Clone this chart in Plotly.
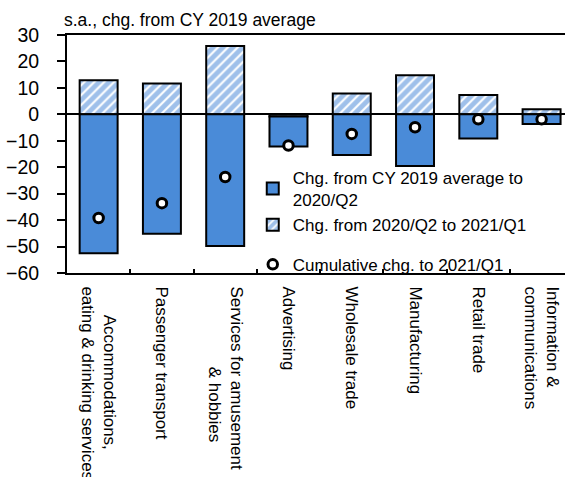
import plotly.graph_objects as go

NB = "\u00a0"
categories = [
    NB * 6 + "Accommodations,<br>eating & drinking services",
    "Passenger transport",
    "Services for amusement<br>" + NB * 17 + "& hobbies",
    "Advertising",
    "Wholesale trade",
    "Manufacturing",
    "Retail trade",
    "Information &<br>communications",
]
chg_to_2020q2 = [-52.5, -45.2, -49.8, -11.4, -15.4, -19.5, -9.1, -3.7]
chg_2020q2_to_2021q1 = [12.9, 11.7, 25.8, -0.8, 7.9, 14.8, 7.3, 1.9]
cumulative = [-39.2, -33.6, -23.7, -11.8, -7.4, -4.9, -1.9, -1.9]

name_blue = "Chg. from CY 2019 average to<br>2020/Q2"
name_hatch = "Chg. from 2020/Q2 to 2021/Q1"
name_cum = "Cumulative chg. to 2021/Q1"
subtitle = "s.a., chg. from CY 2019 average"

BLUE = "#4a8bd8"
FONT = "Liberation Sans, Arial, sans-serif"

fig = go.Figure()
fig.add_trace(go.Bar(
    x=categories, y=chg_2020q2_to_2021q1, name=name_hatch, legendrank=2,
    marker=dict(color="white", line=dict(color="black", width=2),
                pattern=dict(shape="/", fgcolor="#3f82d6", bgcolor="white", size=7, solidity=0.7)),
    width=0.6,
))
fig.add_trace(go.Bar(
    x=categories, y=chg_to_2020q2, name=name_blue, legendrank=1,
    marker=dict(color=BLUE, line=dict(color="black", width=2)),
    width=0.6,
))
fig.add_trace(go.Scatter(
    x=categories, y=cumulative, name=name_cum, mode="markers", legend="legend2",
    marker=dict(symbol="circle", size=9.5, color="white", line=dict(color="black", width=3)),
))

fig.update_layout(
    width=565, height=477,
    margin=dict(l=67, r=0, t=35, b=204, autoexpand=False),
    barmode="relative",
    plot_bgcolor="white", paper_bgcolor="white",
    font=dict(family=FONT, color="black"),
    legend=dict(x=0.373, y=0.475, xanchor="left", yanchor="top",
                bgcolor="rgba(0,0,0,0)", font=dict(size=17, family=FONT),
                itemwidth=30, tracegroupgap=0),
    legend2=dict(x=0.373, y=0.11, xanchor="left", yanchor="top",
                 bgcolor="rgba(0,0,0,0)", font=dict(size=17, family=FONT),
                 itemwidth=30),
    annotations=[dict(text=subtitle, xref="paper", yref="paper", x=-0.01, y=1.063,
                      xanchor="left", yanchor="middle", showarrow=False,
                      font=dict(size=17.5, family=FONT))],
)
fig.update_xaxes(
    type="category", range=[-0.5, 7.37], automargin=False,
    showline=True, linecolor="black", linewidth=2, mirror=True,
    ticks="inside", tickson="boundaries", ticklen=4, tickwidth=1.5, tickcolor="black",
    tickangle=90, tickfont=dict(size=17, family=FONT), ticklabelstandoff=8,
    showgrid=False,
)
fig.update_yaxes(
    range=[-60, 30], dtick=10, tick0=0, automargin=False,
    showline=True, linecolor="black", linewidth=2,
    ticks="outside", ticklen=8, tickwidth=2, tickcolor="black",
    tickfont=dict(size=19.5, family=FONT), ticklabelstandoff=14,
    showgrid=False, zeroline=True, zerolinecolor="black", zerolinewidth=1.5,
)
fig.write_html("out.html")
